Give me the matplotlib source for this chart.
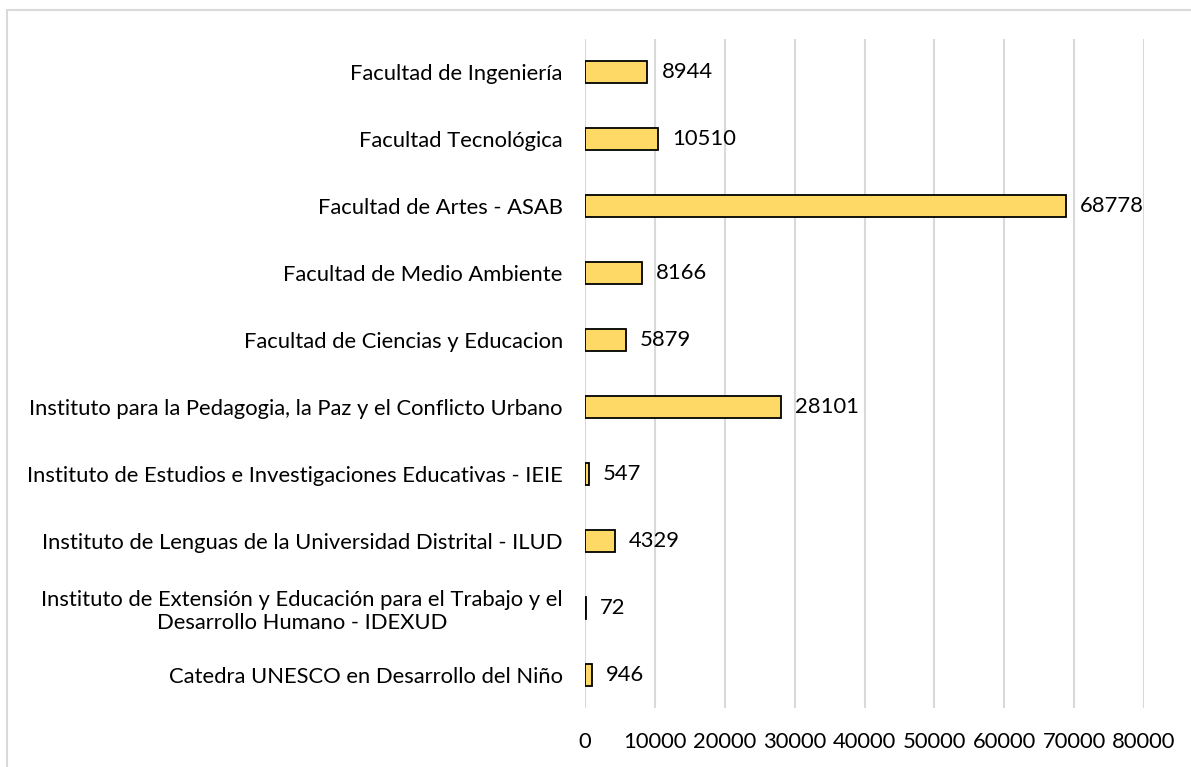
import matplotlib.pyplot as plt
from matplotlib.patches import Rectangle

categories = [
    "Facultad de Ingeniería",
    "Facultad Tecnológica",
    "Facultad de Artes - ASAB",
    "Facultad de Medio Ambiente",
    "Facultad de Ciencias y Educacion",
    "Instituto para la Pedagogia, la Paz y el Conflicto Urbano",
    "Instituto de Estudios e Investigaciones Educativas - IEIE",
    "Instituto de Lenguas de la Universidad Distrital - ILUD",
    "Instituto de Extensión y Educación para el Trabajo y el\nDesarrollo Humano - IDEXUD",
    "Catedra UNESCO en Desarrollo del Niño",
]
values = [8944, 10510, 68778, 8166, 5879, 28101, 547, 4329, 72, 946]
xticks = list(range(0, 80001, 10000))

plt.rcParams['font.family'] = ['Lato', 'DejaVu Sans']
FS = 15.8

W, H = 1191, 767
fig = plt.figure(figsize=(W / 100, H / 100), dpi=100)
ax = fig.add_axes([585 / W, 1 - 708 / H, (1144 - 585) / W, (708 - 39) / H])

# outer chart border (cut off at right/bottom like the reference)
fig.patches.append(Rectangle((7 / W, -0.1), 1.2, 1 - 10 / H + 0.1, transform=fig.transFigure,
                             fill=False, edgecolor='#d9d9d9', linewidth=1.5))

ypos = list(range(len(categories)))
ax.barh(ypos, values, height=0.33, color='#FFD966', edgecolor='black', linewidth=1.3, zorder=3)

for y, v in zip(ypos, values):
    ax.text(v + 2000, y, str(v), va='center', ha='left', fontsize=FS, color='black')

ax.set_xlim(0, 80000)
ax.set_ylim(len(categories) - 0.5, -0.5)
ax.set_yticks(ypos)
ax.set_yticklabels(categories, fontsize=FS, multialignment='center')
ax.set_xticks(xticks)
ax.set_xticklabels([str(t) for t in xticks], fontsize=FS)
ax.tick_params(axis='both', length=0)
ax.tick_params(axis='y', pad=16)
ax.tick_params(axis='x', pad=17)
ax.grid(axis='x', color='#d9d9d9', linewidth=1.5, zorder=0)
for s in ax.spines.values():
    s.set_visible(False)

fig.savefig('out.png', dpi=100)
